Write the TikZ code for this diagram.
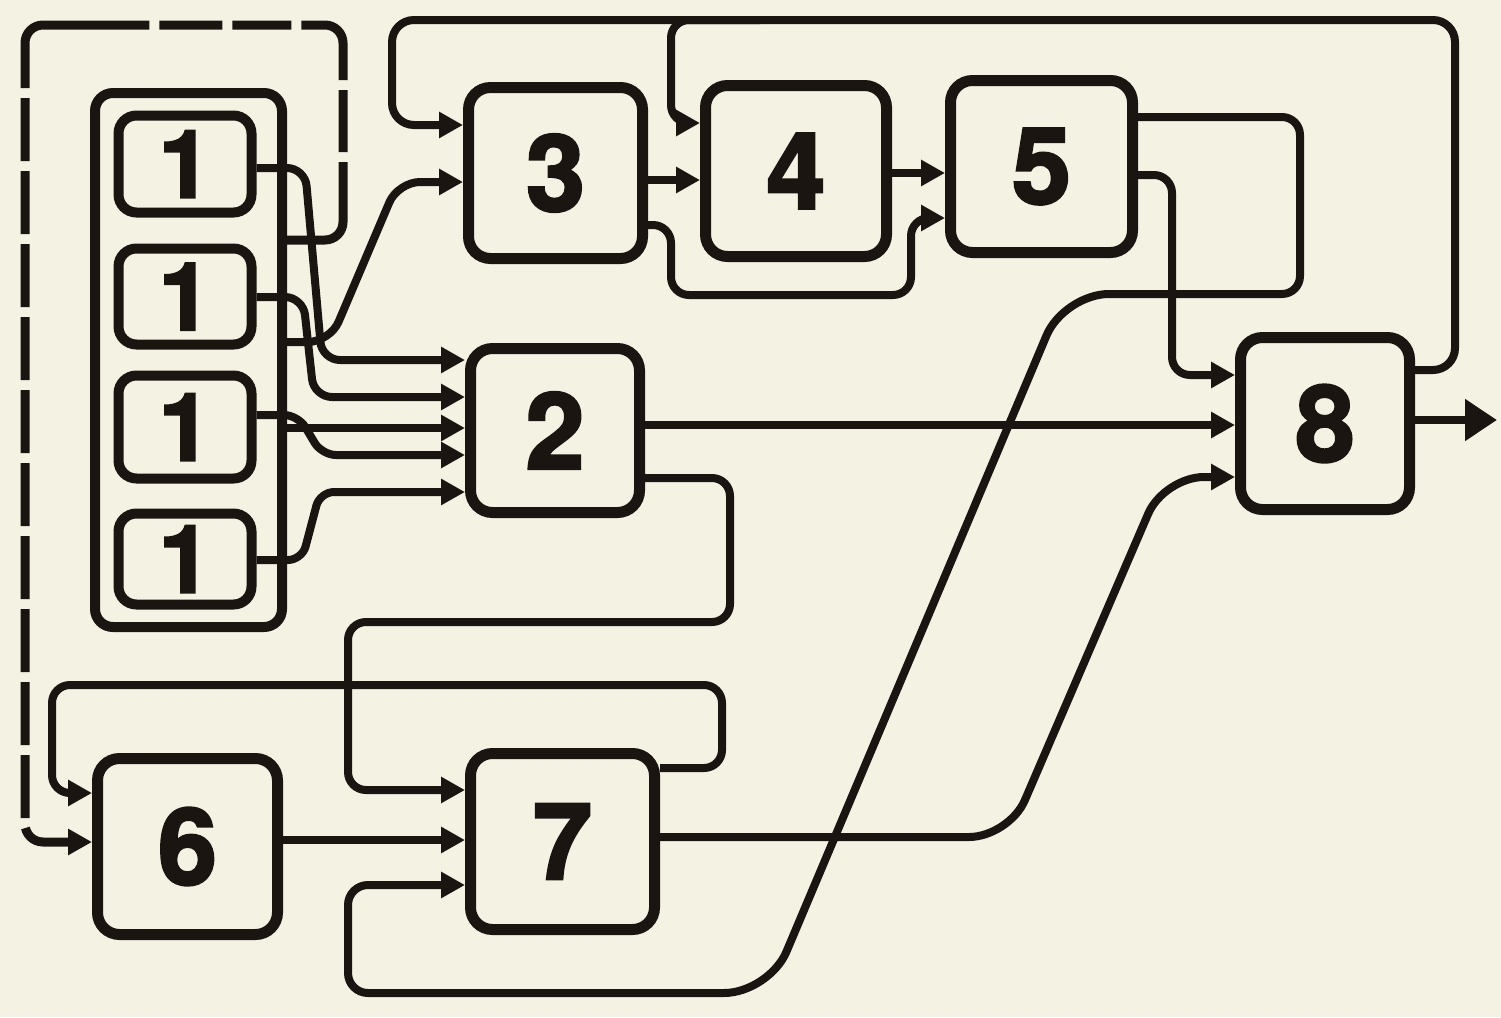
\documentclass[tikz,border=0pt]{standalone}
\usepackage{fontspec}
\newfontfamily\numfont{texgyreheros}[Extension=.otf, UprightFont=*-bold, BoldFont=*-bold, FakeBold=2.5]
\usetikzlibrary{arrows.meta}
\definecolor{paper}{RGB}{244,242,226}
\definecolor{ink}{RGB}{26,21,17}

\begin{document}
\begin{tikzpicture}[x=1pt,y=-1pt,
  blk/.style={draw=ink, line width=11pt, rounded corners=22pt, inner sep=0pt,
    font=\numfont\fontsize{106}{106}\selectfont, text=ink},
  unit/.style={blk, line width=10pt, rounded corners=18pt, font=\numfont\fontsize{94}{94}\selectfont},
  group/.style={draw=ink, line width=10pt, rounded corners=18pt, inner sep=0pt},
  wire/.style={draw=ink, line width=8pt, rounded corners=18pt,
    -{Triangle[length=24pt,width=25pt]}},
  plain/.style={draw=ink, line width=8pt, rounded corners=18pt},
  bigtip/.style={draw=ink, line width=8pt, -{Triangle[length=32pt,width=40pt]}},
]
% paper
\fill[paper] (0,0) rectangle (1501,1017);
\useasboundingbox (0,0) rectangle (1501,1017);

% group of the four units
\node[group, minimum width=187pt, minimum height=534pt] (grp) at (188.5,360) {};
\node[unit, minimum width=133pt, minimum height=97pt]  (u1) at (185,164) {1};
\node[unit, minimum width=133pt, minimum height=96pt]  (u2) at (185,296.5) {1};
\node[unit, minimum width=133pt, minimum height=103pt] (u3) at (185,427) {1};
\node[unit, minimum width=133pt, minimum height=91pt]  (u4) at (185,559) {1};

% main blocks
\node[blk, minimum width=174pt, minimum height=171pt] (b3) at (555.5,173) {3};
\node[blk, minimum width=181pt, minimum height=171pt] (b4) at (796,171) {4};
\node[blk, minimum width=182pt, minimum height=172pt] (b5) at (1041.5,166.5) {5};
\node[blk, minimum width=169pt, minimum height=164pt] (b2) at (555,430.5) {2};
\node[blk, minimum width=169pt, minimum height=172pt] (b8) at (1325,423.5) {8};
\node[blk, minimum width=180pt, minimum height=176pt] (b6) at (187.5,846.5) {6};
\node[blk, minimum width=184pt, minimum height=176pt] (b7) at (562.5,841.5) {7};

% unit outputs into block 2
\draw[wire] (u1.east |- 0,168) -- (305,168) -- (322,360) -- (b2.west |- 0,360);
\draw[wire] (u2.east |- 0,297) -- (303,297) -- (314,397) -- (b2.west |- 0,397);
\draw[wire] (grp.east |- 0,428) -- (b2.west |- 0,428);
\draw[wire, rounded corners=14pt] (u3.east |- 0,415) -- (298,415) -- (322,455) -- (b2.west |- 0,455);
\draw[wire, rounded corners=14pt] (u4.east |- 0,560) -- (302,560) -- (320,492) -- (b2.west |- 0,492);

% group output into block 3
\draw[wire, rounded corners=22pt] (grp.east |- 0,342) -- (330,342) -- (398,182) -- (b3.west |- 0,182);

% dashed return from the group to block 6
\coordinate (dj) at (25,60);
\draw[plain, line width=9pt,
  dash pattern=on 126pt off 10pt on 62pt off 10pt on 89pt off 10pt on 59pt off 10pt on 63pt off 10pt on 500pt]
  (grp.east |- 0,240) -- (343,240) -- (343,25) -- (25,25) -- (dj);
\draw[wire, line width=9pt, dash pattern=on 63pt off 10pt, dash phase=35pt]
  (dj) -- (25,842) -- (b6.west |- 0,842);

% top return from block 8 to blocks 3 and 4
\draw[wire, rounded corners=22pt] (b8.east |- 0,370) -- (1455,370) -- (1455,20) -- (392,20) -- (392,125) -- (b3.west |- 0,125);
\coordinate (tap) at (760,20);
\draw[wire] (tap) -- (671,20) -- (671,123) -- (b4.west |- 0,123);

% chain 3 -> 4 -> 5 and bypass
\draw[wire] (b3.east |- 0,180) -- (b4.west |- 0,180);
\draw[wire] (b4.east |- 0,173) -- (b5.west |- 0,173);
\draw[wire] (b3.east |- 0,225) -- (671,225) -- (671,295) -- (911,295) -- (911,218) -- (b5.west |- 0,218);

% block 5 outputs
\draw[wire] (b5.east |- 0,175) -- (1172,175) -- (1172,375) -- (b8.west |- 0,375);
\draw[wire] (b5.east |- 0,117) -- (1300,117) -- (1300,294) [rounded corners=45pt] -- (1064,294)
  -- (769,993) [rounded corners=20pt] -- (348,993) -- (348,885) -- (b7.west |- 0,885);

% block 2 outputs
\draw[wire] (b2.east |- 0,425) -- (b8.west |- 0,425);
\draw[wire] (b2.east |- 0,478) -- (730,478) -- (730,622) -- (348,622) -- (348,790) -- (b7.west |- 0,790);

% block 7 and block 6
\draw[wire] (b7.east |- 0,768) -- (722,768) -- (722,685) -- (52,685) -- (52,793) -- (b6.west |- 0,793);
\draw[wire] (b6.east |- 0,840) -- (b7.west |- 0,840);
\draw[wire, rounded corners=40pt] (b7.east |- 0,837) -- (1009,837) -- (1164,477) [rounded corners=18pt] -- (b8.west |- 0,477);

% system output
\coordinate (out) at (1497,420);
\draw[bigtip] (b8.east |- 0,420) -- (out);
\end{tikzpicture}
\end{document}
